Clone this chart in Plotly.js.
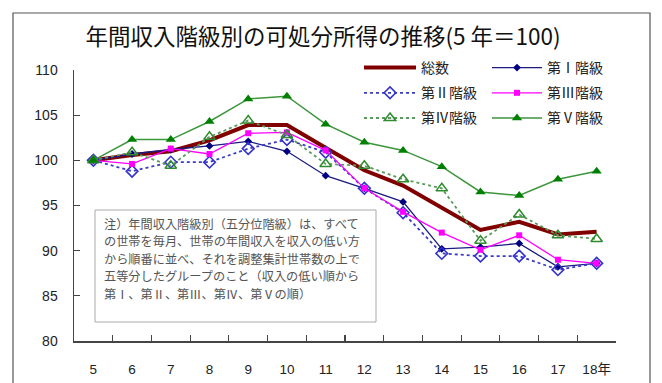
<!DOCTYPE html>
<html>
<head>
<meta charset="utf-8">
<script src="https://cdn.plot.ly/plotly-3.0.1.min.js"></script>
<style>
  html, body { margin: 0; padding: 0; background: #fff; }
  #chart { width: 662px; height: 383px; }
</style>
</head>
<body>
<div id="chart"></div>
<script>
// 年（平成）
const years = ['5', '6', '7', '8', '9', '10', '11', '12', '13', '14', '15', '16', '17', '18年'];

// 可処分所得の指数（平成5年＝100）
const total = [100, 100.6, 101.0, 102.2, 103.9, 103.9, 101.4, 98.9, 97.2, 94.8, 92.3, 93.2, 91.8, 92.1];
const q1    = [100, 100.7, 101.2, 101.6, 102.1, 101.0, 98.3, 96.9, 95.4, 90.2, 90.4, 90.8, 88.2, 88.6];
const q2    = [100, 98.8, 99.8, 99.8, 101.3, 102.3, 100.9, 96.9, 94.2, 89.7, 89.4, 89.4, 87.9, 88.6];
const q3    = [100, 99.6, 101.3, 100.7, 103.0, 103.1, 101.1, 96.9, 94.3, 92.0, 90.1, 91.7, 89.0, 88.6];
const q4    = [100, 100.9, 99.4, 102.6, 104.4, 102.8, 99.6, 99.4, 97.9, 96.9, 91.1, 94.0, 91.7, 91.3];
const q5    = [100, 102.3, 102.3, 104.3, 106.8, 107.1, 104.0, 102.0, 101.1, 99.3, 96.5, 96.1, 97.9, 98.8];

const seriesNames = ['総数', '第Ⅰ階級', '第Ⅱ階級', '第Ⅲ階級', '第Ⅳ階級', '第Ⅴ階級'];
const yTicks = [80, 85, 90, 95, 100, 105, 110];

const noteLines = [
  '注）年間収入階級別（五分位階級）は、すべて',
  'の世帯を毎月、世帯の年間収入を収入の低い方',
  'から順番に並べ、それを調整集計世帯数の上で',
  '五等分したグループのこと（収入の低い順から',
  '第Ⅰ、第Ⅱ、第Ⅲ、第Ⅳ、第Ⅴの順）'
];

const FONT = 'Liberation Sans, Arial, Noto Sans CJK JP, sans-serif';
const CJK = 'Noto Sans CJK JP, sans-serif';

// plot area in pixels, used to place the note box and frame in paper units
const PLOT = { l: 74, r: 616, t: 70, b: 341 };
const px = x => (x - PLOT.l) / (PLOT.r - PLOT.l);
const py = y => (PLOT.b - y) / (PLOT.b - PLOT.t);

const traces = [
  { y: total, name: seriesNames[0], legend: 'legend',
    mode: 'lines', line: { color: '#800000', width: 4 } },
  { y: q1, name: seriesNames[1], legend: 'legend2',
    mode: 'lines+markers', line: { color: '#1a1a80', width: 1.3 },
    marker: { symbol: 'diamond', size: 6, color: '#000080' } },
  { y: q2, name: seriesNames[2], legend: 'legend',
    mode: 'lines+markers', line: { color: '#3b3bc8', width: 1.8, dash: 'dot' },
    marker: { symbol: 'diamond-open', size: 9, color: '#3333cc', line: { width: 1.6 } } },
  { y: q3, name: seriesNames[3], legend: 'legend2',
    mode: 'lines+markers', line: { color: '#ff00ff', width: 1.3 },
    marker: { symbol: 'square', size: 6, color: '#ff00ff' } },
  { y: q4, name: seriesNames[4], legend: 'legend',
    mode: 'lines+markers', line: { color: '#5a9a5a', width: 1.8, dash: 'dot' },
    marker: { symbol: 'triangle-up-open', size: 10, color: '#2e8b2e', line: { width: 1.5 } } },
  { y: q5, name: seriesNames[5], legend: 'legend2',
    mode: 'lines+markers', line: { color: '#3c963c', width: 1.5 },
    marker: { symbol: 'triangle-up', size: 9, color: '#008000' } }
].map((t, i) => Object.assign({ type: 'scatter', x: years, cliponaxis: false, legendgroup: 'g' + i }, t));

const legendBase = {
  orientation: 'v',
  bgcolor: 'rgba(0,0,0,0)',
  font: { family: CJK, size: 14, color: '#222' },
  xanchor: 'left', yanchor: 'top',
  itemwidth: 50,
  tracegroupgap: 4,
  traceorder: 'grouped'
};

// note text, one annotation per line
const noteCenters = [223.5, 241, 258.5, 276, 293.5];
const noteAnnotations = noteLines.map((line, i) => ({
  xref: 'paper', yref: 'paper',
  x: px(101.5), y: py(noteCenters[i]),
  xanchor: 'left', yanchor: 'middle',
  text: line,
  showarrow: false,
  font: { family: CJK, size: 12.2, color: '#555' }
}));

const layout = {
  width: 662,
  height: 383,
  margin: { l: PLOT.l, r: 662 - PLOT.r, t: PLOT.t, b: 383 - PLOT.b },
  paper_bgcolor: '#fff',
  plot_bgcolor: '#fff',
  showlegend: true,
  title: {
    text: '年間収入階級別の可処分所得の推移(5 年＝100)',
    font: { family: CJK, size: 22.5, color: '#111' },
    x: 0.488, xanchor: 'center',
    y: 0.903, yanchor: 'middle'
  },
  xaxis: {
    type: 'category',
    range: [-0.5, years.length - 0.5],
    showgrid: false,
    zeroline: false,
    showline: true, linecolor: '#444', linewidth: 1.5,
    ticks: 'inside', tickson: 'boundaries', ticklen: 6, tickwidth: 1.2, tickcolor: '#444',
    ticklabelstandoff: 15,
    tickfont: { family: FONT, size: 13.5, color: '#222' }
  },
  yaxis: {
    range: [80, 110],
    tickvals: yTicks,
    showgrid: false,
    zeroline: false,
    showline: true, linecolor: '#444', linewidth: 1.5,
    ticks: 'inside', ticklen: 6, tickwidth: 1.2, tickcolor: '#444',
    ticklabelstandoff: 12,
    tickfont: { family: FONT, size: 14, color: '#222' }
  },
  legend: Object.assign({}, legendBase, { x: px(361), y: py(52) }),
  legend2: Object.assign({}, legendBase, { x: px(487), y: py(52) }),
  annotations: noteAnnotations,
  shapes: [
    { // note box
      type: 'rect', xref: 'paper', yref: 'paper', layer: 'below',
      x0: px(95), x1: px(376), y0: py(322), y1: py(210),
      fillcolor: '#fff',
      line: { color: '#aaa', width: 1 }
    },
    { // outer frame
      type: 'rect', xref: 'paper', yref: 'paper', layer: 'above',
      x0: px(13), x1: px(650), y0: py(400), y1: py(13),
      line: { color: '#555', width: 1.2 }
    }
  ]
};

const gd = document.getElementById('chart');
Plotly.newPlot(gd, traces, layout, { staticPlot: true, displayModeBar: false }).then(() => {
  // lengthen the legend line samples to span the gap before each label
  gd.querySelectorAll('.legend .traces').forEach(item => {
    const label = item.querySelector('text.legendtext');
    if (!label) return;
    const tx = parseFloat(label.getAttribute('x'));
    const x0 = tx - 57, x1 = tx - 5;
    item.querySelectorAll('.legendlines path').forEach(p => p.setAttribute('d', 'M' + x0 + ',0H' + x1));
    item.querySelectorAll('.legendpoints path.scatterpts').forEach(p =>
      p.setAttribute('transform', 'translate(' + ((x0 + x1) / 2) + ',0)'));
  });
});
</script>
</body>
</html>
